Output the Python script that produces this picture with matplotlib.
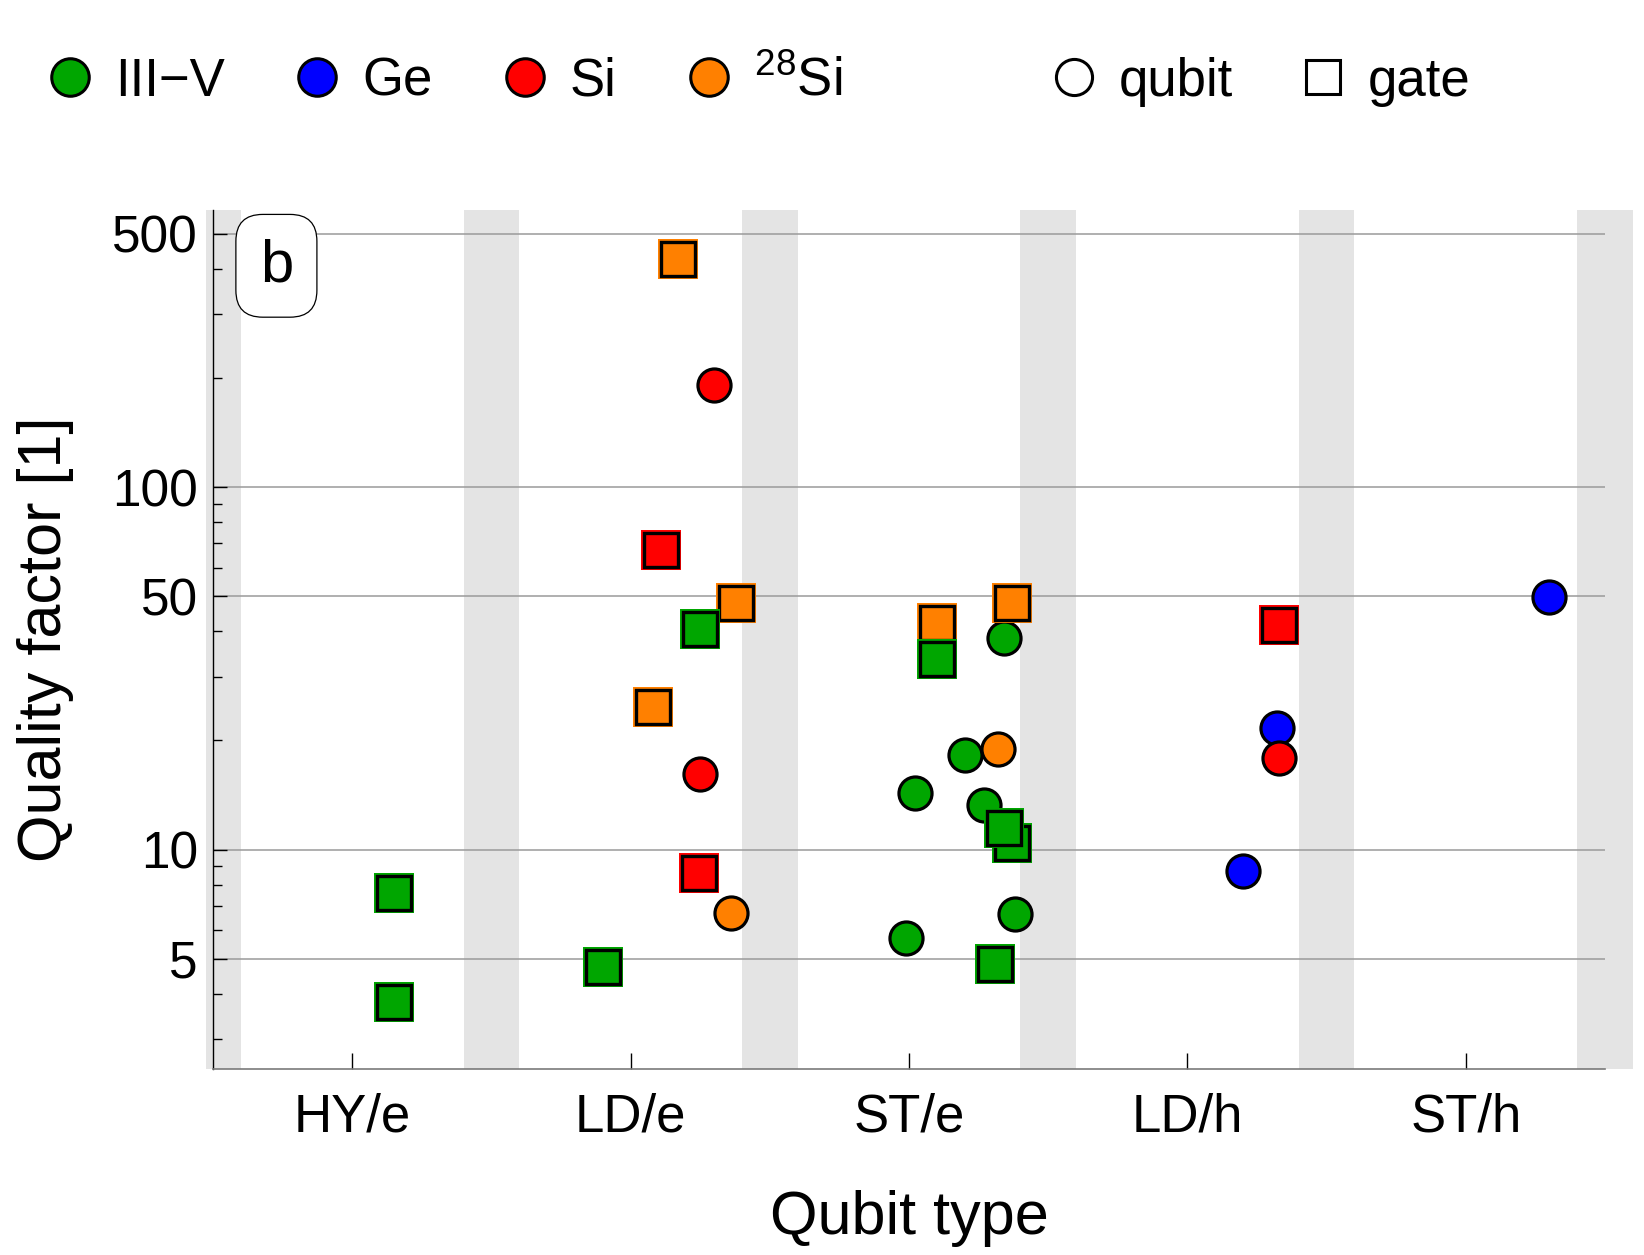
import matplotlib
matplotlib.use("Agg")
import matplotlib.pyplot as plt
from matplotlib.lines import Line2D
from matplotlib.ticker import FixedLocator, NullFormatter

plt.rcParams["font.family"] = ["Liberation Sans", "DejaVu Sans"]
plt.rcParams["mathtext.fontset"] = "custom"
plt.rcParams["mathtext.rm"] = "Liberation Sans"
plt.rcParams["mathtext.default"] = "regular"

# --- data ---------------------------------------------------------------
categories = ["HY/e", "LD/e", "ST/e", "LD/h", "ST/h"]
materials = ["III-V", "Ge", "Si", "28Si"]
material_colors = {"III-V": "#00A600", "Ge": "#0000FF", "Si": "#FF0000", "28Si": "#FF8000"}

# each point: category, offset within the category slot, quality factor, material, kind
pt_cat = ["HY/e", "HY/e",
          "LD/e", "LD/e", "LD/e", "LD/e", "LD/e", "LD/e", "LD/e", "LD/e", "LD/e", "LD/e",
          "ST/e", "ST/e", "ST/e", "ST/e", "ST/e", "ST/e", "ST/e", "ST/e", "ST/e", "ST/e", "ST/e", "ST/e", "ST/e",
          "LD/h", "LD/h", "LD/h", "LD/h",
          "ST/h"]
pt_off = [0.15, 0.15,
          0.17, 0.30, 0.11, 0.38, 0.25, 0.08, 0.25, 0.245, 0.36, -0.10,
          0.10, 0.37, 0.34, 0.10, 0.20, 0.32, 0.02, 0.27, 0.37, 0.34, 0.38, -0.01, 0.31,
          0.33, 0.32, 0.33, 0.20,
          0.30]
pt_q = [7.6, 3.8,
        426, 191, 67, 47.8, 40.5, 24.8, 16.2, 8.6, 6.7, 4.75,
        42.1, 47.8, 38.3, 33.5, 18.2, 19.0, 14.3, 13.3, 10.45, 11.5, 6.65, 5.71, 4.84,
        41.6, 21.7, 17.9, 8.7,
        49.7]
pt_mat = ["III-V", "III-V",
          "28Si", "Si", "Si", "28Si", "III-V", "28Si", "Si", "Si", "28Si", "III-V",
          "28Si", "28Si", "III-V", "III-V", "III-V", "28Si", "III-V", "III-V", "III-V", "III-V", "III-V", "III-V", "III-V",
          "Si", "Ge", "Si", "Ge",
          "Ge"]
pt_kind = ["gate", "gate",
           "gate", "qubit", "gate", "gate", "gate", "gate", "qubit", "gate", "qubit", "gate",
           "gate", "gate", "qubit", "gate", "qubit", "qubit", "qubit", "qubit", "gate", "gate", "qubit", "qubit", "gate",
           "gate", "qubit", "qubit", "qubit",
           "qubit"]

# --- figure -------------------------------------------------------------
fig = plt.figure(figsize=(16.44, 12.55), dpi=100)
ax = fig.add_axes([0.1296, 0.1482, 0.8467, 0.6845])
ax.set_yscale("log")
ax.set_xlim(0.5, 5.5)
ax.set_ylim(2.48, 582)

# gray bands between categories
for k in range(6):
    lo = k + 0.4 if k > 0 else 0.475
    span = ax.axvspan(lo, k + 0.6, color="#e4e4e4", lw=0, zorder=0)
    span.set_clip_on(False)

for v in [5, 10, 50, 100, 500]:
    ax.axhline(v, color="#9a9a9a", lw=1.1, zorder=0.5)

xpos = {c: i + 1 for i, c in enumerate(categories)}

# circles first, squares on top
for kind in ["qubit", "gate"]:
    for c, o, q, m, kd in zip(pt_cat, pt_off, pt_q, pt_mat, pt_kind):
        if kd != kind:
            continue
        col = material_colors[m]
        x = xpos[c] + o
        if kd == "qubit":
            ax.plot(x, q, marker="o", ls="none", ms=23.8, mfc=col, mec="k", mew=2.3, zorder=3)
        else:
            ax.plot(x, q, marker="s", ls="none", ms=28.8, mfc=col, mec=col, mew=0, zorder=3)
            ax.plot(x, q, marker="s", ls="none", ms=24.3, mfc=col, mec="k", mew=2.4, zorder=3)

# axes styling
ax.set_xticks(range(1, 6))
ax.set_xticklabels(categories)
ax.yaxis.set_major_locator(FixedLocator([5, 10, 50, 100, 500]))
ax.set_yticklabels(["5", "10", "50", "100", "500"])
minors = [3, 4, 6, 7, 8, 9, 20, 30, 40, 60, 70, 80, 90, 200, 300, 400]
ax.yaxis.set_minor_locator(FixedLocator(minors))
ax.yaxis.set_minor_formatter(NullFormatter())
ax.tick_params(axis="x", which="major", direction="in", length=11.5, width=1.0, labelsize=38, pad=17)
ax.tick_params(axis="x", which="minor", bottom=False)
ax.tick_params(axis="y", which="major", direction="in", length=10, width=1.0, labelsize=37, pad=11)
ax.tick_params(axis="y", which="minor", direction="in", length=6.5, width=1.0)

for s in ["top", "right"]:
    ax.spines[s].set_visible(False)
ax.spines["left"].set_linewidth(1.0)
ax.spines["bottom"].set_color("#7a7a7a")
ax.spines["bottom"].set_linewidth(1.2)

ax.set_ylabel("Quality factor [1]", fontsize=44)
ax.set_xlabel("Qubit type", fontsize=44)
ax.yaxis.set_label_coords(-0.100, 0.5)
ax.xaxis.set_label_coords(0.5, -0.141)

ax.text(0.0455, 0.935, "b", transform=ax.transAxes, fontsize=43, ha="center", va="center", zorder=5,
        bbox=dict(boxstyle="round,pad=0.4,rounding_size=0.45", fc="white", ec="black", lw=0.9))

# legends
mat_labels = {"III-V": "III\u2212V", "Ge": "Ge", "Si": "Si", "28Si": r"$^{28}$Si"}
mat_handles = [Line2D([], [], marker="o", ls="none", ms=27, mfc=material_colors[m], mec="k", mew=2.2,
                      label=mat_labels[m]) for m in materials]
fig.legend(handles=mat_handles, loc="center left", bbox_to_anchor=(0.0298, 0.935), ncol=4, frameon=False,
           fontsize=38, handlelength=0.8, handletextpad=0.45, columnspacing=1.35, borderpad=0, borderaxespad=0)

kind_handles = [Line2D([], [], marker="o", ls="none", ms=26, mfc="white", mec="k", mew=2.2, label="qubit"),
                Line2D([], [], marker="s", ls="none", ms=24, mfc="white", mec="k", mew=2.2, label="gate")]
fig.legend(handles=kind_handles, loc="center left", bbox_to_anchor=(0.6405, 0.935), ncol=2, frameon=False,
           fontsize=38, handlelength=0.8, handletextpad=0.45, columnspacing=1.3, borderpad=0, borderaxespad=0)

fig.savefig("out.png", dpi=100)
